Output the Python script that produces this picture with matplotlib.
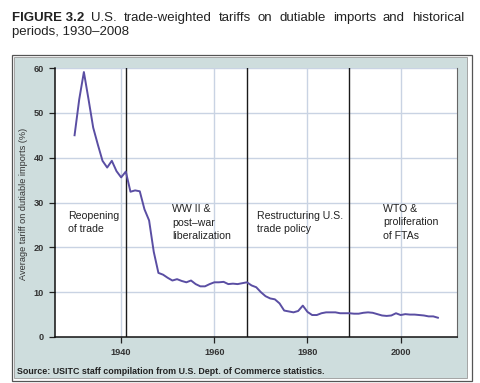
import matplotlib
matplotlib.use("Agg")
import matplotlib.pyplot as plt
from matplotlib.patches import Rectangle

plt.rcParams['font.family'] = ['Liberation Sans', 'DejaVu Sans']

years = list(range(1930, 2009))
tariff = [45.0, 53.0, 59.1, 53.0, 46.7, 42.9, 39.3, 37.8, 39.3, 37.0,
          35.6, 36.9, 32.4, 32.7, 32.5, 28.5, 26.0, 19.0, 14.3, 13.9,
          13.2, 12.6, 12.9, 12.5, 12.2, 12.6, 11.8, 11.3, 11.3, 11.8,
          12.2, 12.2, 12.3, 11.8, 11.9, 11.8, 12.0, 12.2, 11.5, 11.1,
          10.0, 9.1, 8.6, 8.4, 7.5, 5.9, 5.7, 5.5, 5.8, 7.0,
          5.6, 4.9, 4.9, 5.3, 5.5, 5.5, 5.5, 5.3, 5.3, 5.3,
          5.2, 5.2, 5.4, 5.5, 5.4, 5.1, 4.8, 4.7, 4.8, 5.3,
          4.9, 5.1, 5.0, 5.0, 4.9, 4.8, 4.6, 4.6, 4.3]

period_breaks = [1941, 1967, 1989]
period_labels = ["Reopening\nof trade", "WW II &\npost\u2013war\nliberalization",
                 "Restructuring U.S.\ntrade policy", "WTO &\nproliferation\nof FTAs"]
label_pos = [(1928.6, 28.2), (1950.9, 29.6), (1969.1, 28.2), (1996.2, 29.7)]

x_ticks = [1940, 1960, 1980, 2000]
y_ticks = [0, 10, 20, 30, 40, 50, 60]

W, H = 480, 383
fig = plt.figure(figsize=(W / 100, H / 100), dpi=100)
fig.patch.set_facecolor('white')

# outer frame and panel
fig.patches.append(Rectangle((12 / W, 1 - 381 / H), 460 / W, 326 / H, transform=fig.transFigure,
                             facecolor='white', edgecolor='#555555', lw=0.9, zorder=-10))
fig.patches.append(Rectangle((14 / W, 1 - 378 / H), 453 / W, 321 / H, transform=fig.transFigure,
                             facecolor='#cedddd', edgecolor='#999999', lw=0.6, zorder=-9))

ax = fig.add_axes([55 / W, 1 - 337 / H, 402 / W, 269 / H])
ax.set_zorder(1)
ax.set_facecolor('white')
ax.set_xlim(1925.8, 2012.1)
ax.set_ylim(0, 60)

for yv in y_ticks[1:]:
    ax.axhline(yv, color='#c9d3e3', lw=1.0, zorder=1)
for xv in x_ticks:
    ax.axvline(xv, color='#c9d3e3', lw=1.0, zorder=1)
for xv in period_breaks:
    ax.axvline(xv, color='#1a1a1a', lw=1.0, zorder=2)

ax.plot(years, tariff, color='#5a4ea3', lw=1.4, zorder=3)

for (tx, ty), lab in zip(label_pos, period_labels):
    ax.text(tx, ty, lab, ha='left', va='top', fontsize=7.6, color='#222222',
            linespacing=1.45, zorder=4)

ax.set_xticks(x_ticks)
ax.set_yticks(y_ticks)
ax.tick_params(axis='both', direction='out', length=4.5, width=0.9, colors='#222222',
               labelsize=6.6, pad=3.5)
for lbl in ax.get_xticklabels() + ax.get_yticklabels():
    lbl.set_fontweight('bold')
    lbl.set_color('#333333')

for s in ['left', 'bottom']:
    ax.spines[s].set_color('#111111')
    ax.spines[s].set_linewidth(1.1)
ax.spines['top'].set_visible(False)
ax.spines['right'].set_color('#666666')
ax.spines['right'].set_linewidth(0.8)

fig.text(24 / W, 1 - 204 / H, "Average tariff on dutiable imports (%)", rotation=90,
         ha='center', va='center', fontsize=6.6, color='#333333')

fig.text(17 / W, 1 - 371 / H,
         "Source: USITC staff compilation from U.S. Dept. of Commerce statistics.",
         ha='left', va='center', fontsize=6.4, fontweight='bold', color='#222222')

# Title: justified first line
renderer = fig.canvas.get_renderer()
title_words = ["FIGURE 3.2", "U.S.", "trade-weighted", "tariffs", "on", "dutiable",
               "imports", "and", "historical"]
x0, x1 = 12, 464
base1 = 1 - 21 / H
texts = []
for i, w in enumerate(title_words):
    t = fig.text(0, base1, w, ha='left', va='baseline', fontsize=9.5, color='#222222',
                 fontweight='bold' if i == 0 else 'normal')
    texts.append(t)
widths = [t.get_window_extent(renderer).width for t in texts]
gap = (x1 - x0 - sum(widths)) / (len(widths) - 1)
cx = x0
for t, wd in zip(texts, widths):
    t.set_x(cx / W)
    cx += wd + gap
fig.text(x0 / W, 1 - 35 / H, "periods, 1930\u20132008", ha='left', va='baseline',
         fontsize=9.5, color='#222222')

fig.savefig('out.png', dpi=100)
